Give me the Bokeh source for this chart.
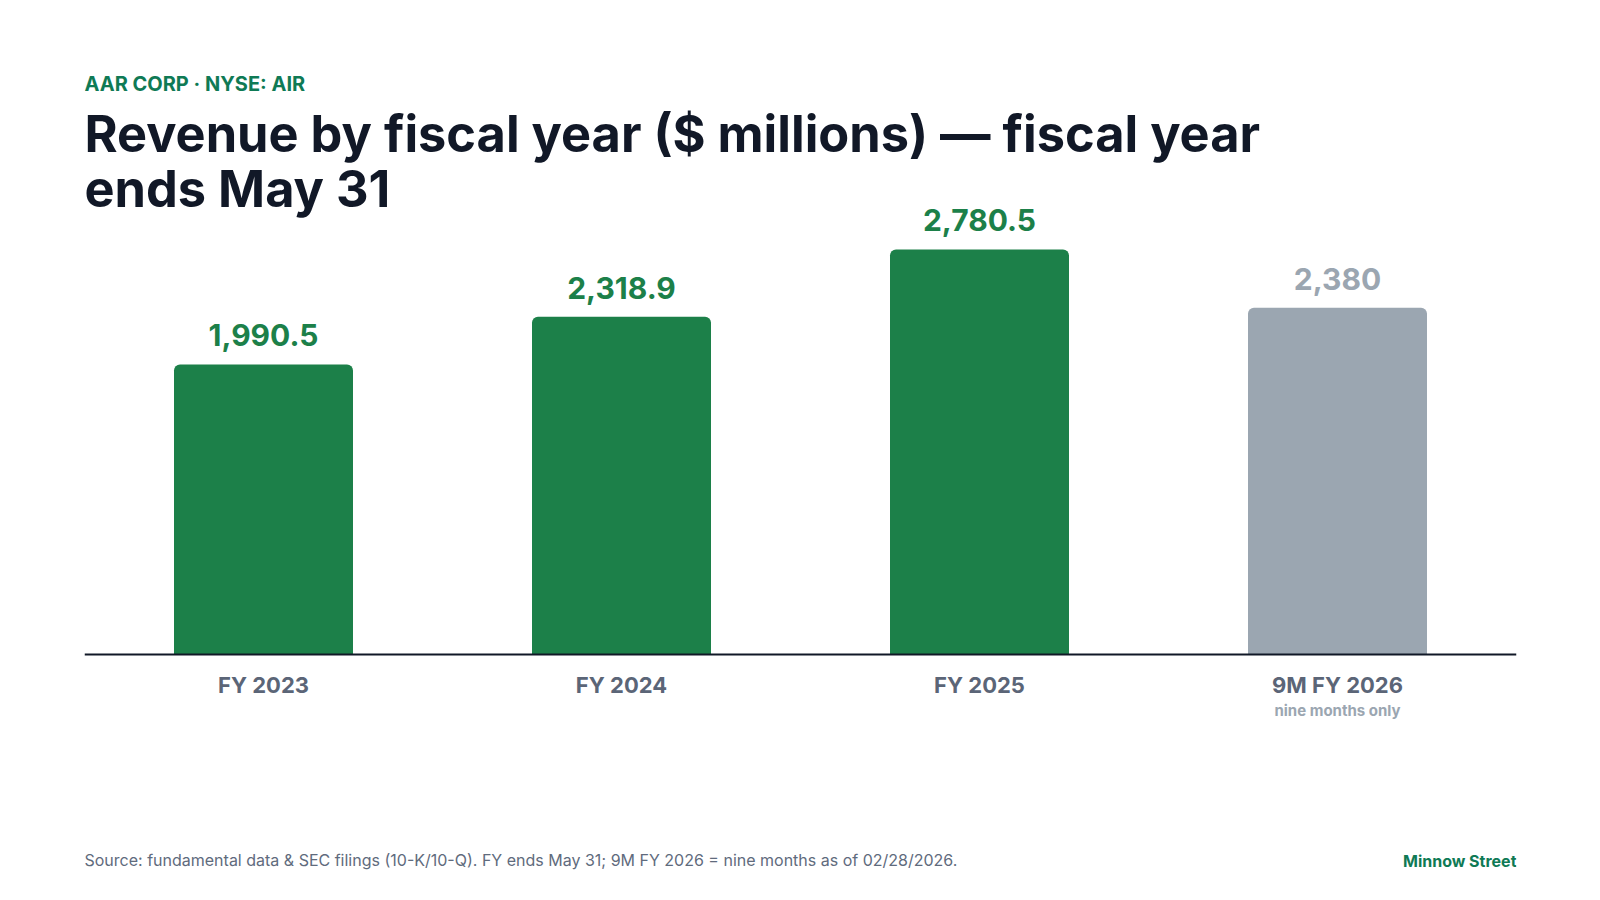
from bokeh.plotting import figure
from bokeh.models import ColumnDataSource, Label, Span, Range1d
from bokeh.core.properties import value
from bokeh.embed import file_html
from bokeh.resources import INLINE

# data
categories = ["FY 2023", "FY 2024", "FY 2025", "9M FY 2026"]
revenue = [1990.5, 2318.9, 2780.5, 2380.0]
value_labels = ["1,990.5", "2,318.9", "2,780.5", "2,380"]
partial = [False, False, False, True]

GREEN = "#1c8049"
GREY = "#9ba6b1"
INK = "#111827"
SLATE = "#5b6577"
FONT = "Inter"

W, H = 1584, 884
base_y = 654          # canvas y of the zero line
px_per_unit = 0.1457  # vertical scale

src = ColumnDataSource(data=dict(
    cat=categories,
    rev=revenue,
    lbl=value_labels,
    color=[GREY if p else GREEN for p in partial],
))

p = figure(width=W, height=H, x_range=categories,
           y_range=Range1d(-(H - base_y) / px_per_unit, base_y / px_per_unit),
           x_axis_location=None, y_axis_location=None,
           toolbar_location=None, output_backend="svg",
           min_border_left=84, min_border_right=W - 1516,
           min_border_top=0, min_border_bottom=0)
p.outline_line_color = None
p.xgrid.grid_line_color = None
p.ygrid.grid_line_color = None
p.background_fill_color = "white"
p.border_fill_color = "white"

p.vbar(x="cat", top="rev", bottom=0, width=0.5, source=src,
       fill_color="color", line_color=None, border_radius=(6, 6, 0, 0))

p.add_layout(Span(location=0, dimension="width", line_color=INK, line_width=2))

# value labels over bars
p.text(x="cat", y="rev", text="lbl", source=src, y_offset=-29,
       text_align="center", text_baseline="alphabetic",
       text_font=value(FONT), text_font_style="bold", text_font_size="30px",
       text_color="color")

# category labels under the baseline
p.text(x="cat", y=0, text="cat", source=src, y_offset=30,
       text_align="center", text_baseline="alphabetic",
       text_font=value(FONT), text_font_style="bold", text_font_size="22px",
       text_color=SLATE)
p.text(x=[categories[3]], y=[0], text=["nine months only"], y_offset=56,
       text_align="center", text_baseline="alphabetic",
       text_font=value(FONT), text_font_style="bold", text_font_size="15px",
       text_color=GREY)


def add_label(txt, cy, size, color, style="bold", x=0, align="left"):
    p.add_layout(Label(x=x, y=H - cy, x_units="screen", y_units="screen",
                       text=txt, text_font=FONT, text_font_size=size,
                       text_font_style=style, text_color=color,
                       text_align=align, text_baseline="alphabetic"))


add_label("AAR CORP · NYSE: AIR", 83, "20px", "#0f7a55")
add_label("Revenue by fiscal year ($ millions) — fiscal year", 133, "50.5px", INK)
add_label("ends May 31", 188, "50.5px", INK)
add_label("Source: fundamental data & SEC filings (10-K/10-Q). FY ends May 31; "
          "9M FY 2026 = nine months as of 02/28/2026.", 859, "16px", "#5f6b7d",
          style="normal")
add_label("Minnow Street", 860, "16px", "#0f7a55", x=1432, align="right")

open("out.html", "w").write(file_html(p, INLINE))
